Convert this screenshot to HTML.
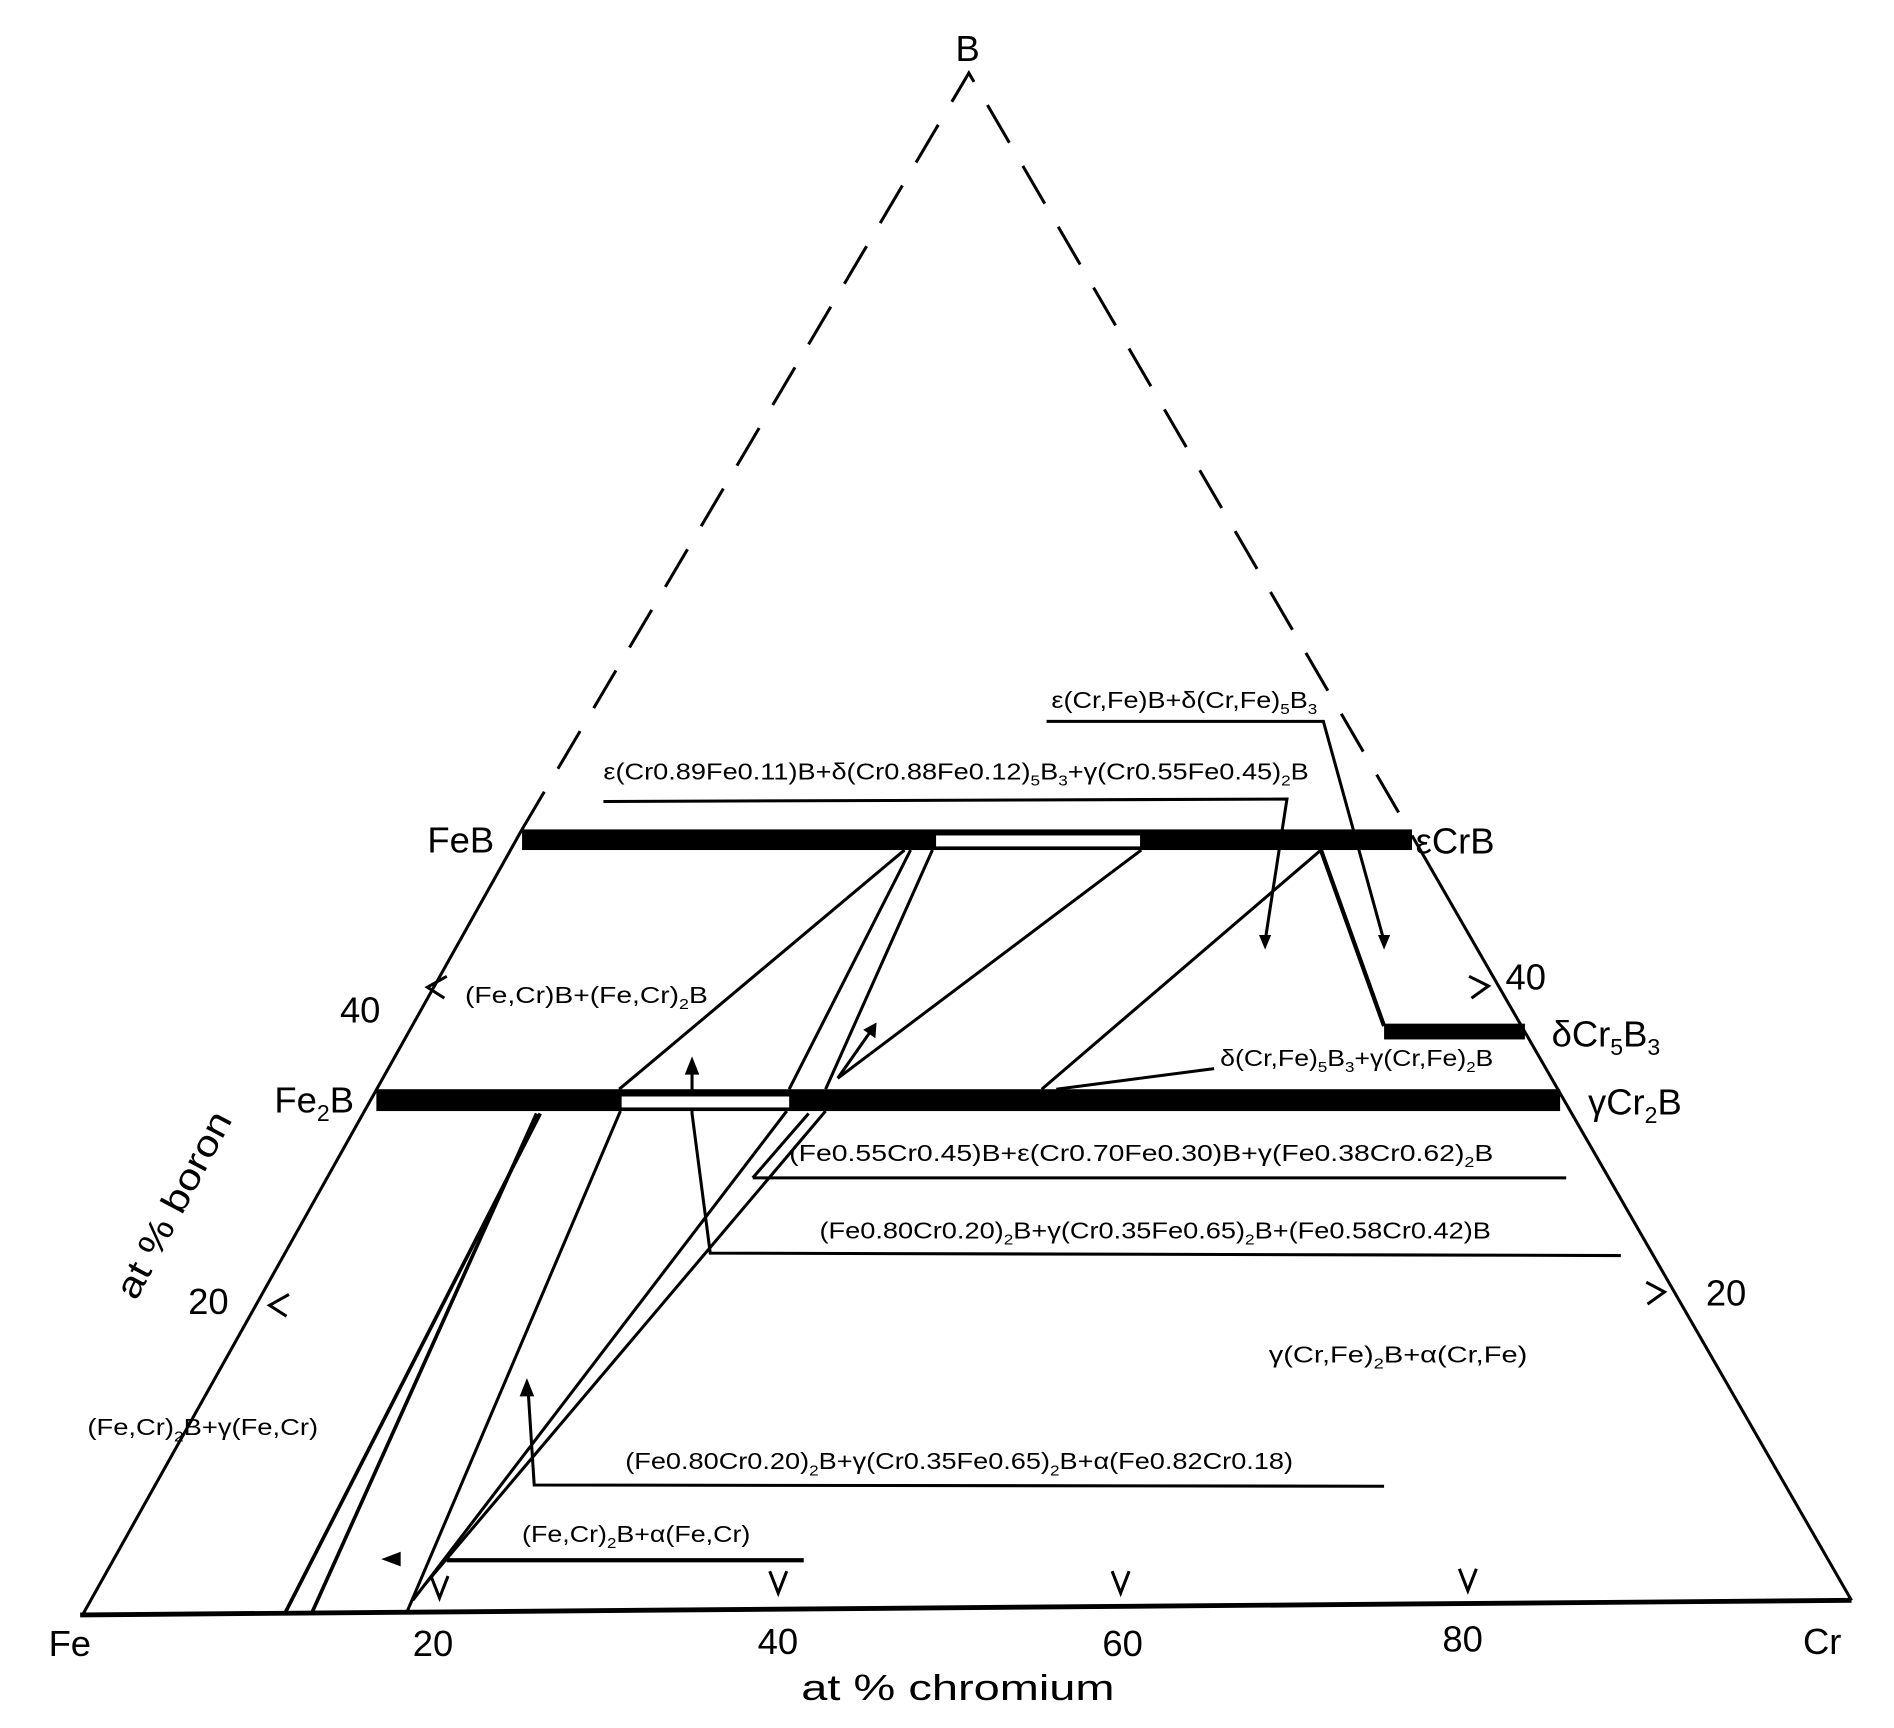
<!DOCTYPE html>
<html><head><meta charset="utf-8"><style>
html,body{margin:0;padding:0;background:#fff;}
svg{display:block;}
text{font-family:"Liberation Sans",sans-serif;fill:#000;}
.s{font-size:19px;}
.b{font-size:30px;}
</style></head><body>
<svg width="1894" height="1728" viewBox="0 0 1560 1423" xmlns="http://www.w3.org/2000/svg">
<g stroke="#000" fill="none" stroke-width="2.5">
<path d="M430 683 L798 60 L1163 688" stroke-dasharray="36 22"/>
<path d="M68 1330 L430 683"/>
<path d="M1525 1318 L1163 688"/>
<path d="M66 1330 L1525 1318" stroke-width="4"/>
<path d="M745 700 L510 897"/>
<path d="M511 915 L335 1328"/>
<path d="M750 700 L650 897"/>
<path d="M768 700 L680 897"/>
<path d="M648 915 L340 1318"/>
<path d="M680 915 L350 1305"/>
<path d="M940 700 L690 888"/>
<path d="M1088 700 L858 897"/>
<path d="M1088 700 L1140 845" stroke-width="3.5"/>
<path d="M445 917 L235 1328" stroke-width="3"/>
<path d="M442 917 L257 1328" stroke-width="3"/>
<path d="M862 594 L1090 594 L1140 775"/>
<path d="M497 660 L1060 658 L1042 775"/>
<path d="M1000 880 L870 897"/>
<path d="M620 970 L666 917"/>
<path d="M620 970 L1290 970"/>
<path d="M570 880 L570 917 L585 1032 L1335 1034"/>
<path d="M435 1145 L440 1223 L1140 1224"/>
<path d="M368 1285 L662 1285" stroke-width="3.5"/>
<path d="M690 888 L718 848"/>
<path d="M355 1298 L362 1316 L369 1298"/>
<path d="M634 1294 L641 1312 L648 1294"/>
<path d="M916 1294 L923 1312 L930 1294"/>
<path d="M1202 1292 L1209 1310 L1216 1292"/>
<path d="M368 804 L352 813 L366 822"/>
<path d="M238 1066 L222 1075 L236 1084"/>
<path d="M1210 804 L1226 812 L1212 822"/>
<path d="M1356 1056 L1371 1064 L1357 1074"/>
</g>
<g fill="#000">
<path d="M1140 782 L1135 770 L1145 770 Z"/>
<path d="M1042 782 L1037 770 L1047 770 Z"/>
<path d="M570 870 L564 885 L576 885 Z"/>
<path d="M434 1135 L428 1150 L440 1150 Z"/>
<path d="M722 842 L711 848 L721 855 Z"/>
<path d="M314 1284 L330 1278 L330 1290 Z"/>
<rect x="430" y="683" width="733" height="17"/>
<rect x="310" y="897" width="975" height="18"/>
<rect x="1140" y="843" width="116" height="13"/>
</g>
<g fill="#fff">
<rect x="771" y="688" width="168" height="9"/>
<rect x="512" y="903" width="138" height="9"/>
</g>
<text class="b" x="787" y="50">B</text>
<text class="b" x="352" y="702">FeB</text>
<text class="b" x="1166" y="703">εCrB</text>
<text class="b" x="226" y="916">Fe<tspan font-size="19" dy="7">2</tspan><tspan dy="-7">B</tspan></text>
<text class="b" x="1278" y="862">δCr<tspan font-size="19" dy="7">5</tspan><tspan dy="-7">B</tspan><tspan font-size="19" dy="7">3</tspan></text>
<text class="b" x="1308" y="918">γCr<tspan font-size="19" dy="7">2</tspan><tspan dy="-7">B</tspan></text>
<text class="b" x="280" y="842">40</text>
<text class="b" x="155" y="1082">20</text>
<text class="b" x="1240" y="815">40</text>
<text class="b" x="1405" y="1075">20</text>
<text class="b" x="40" y="1364">Fe</text>
<text class="b" x="340" y="1364">20</text>
<text class="b" x="624" y="1362">40</text>
<text class="b" x="908" y="1364">60</text>
<text class="b" x="1188" y="1360">80</text>
<text class="b" x="1485" y="1362">Cr</text>
<text class="b" x="660" y="1400" font-size="32" textLength="258" lengthAdjust="spacingAndGlyphs">at % chromium</text>
<text class="b" transform="translate(112,1072) rotate(-62)" font-size="32" textLength="170" lengthAdjust="spacingAndGlyphs">at % boron</text>
<text class="s" x="866" y="583" textLength="219" lengthAdjust="spacingAndGlyphs">ε(Cr,Fe)B+δ(Cr,Fe)<tspan font-size="12" dy="5">5</tspan><tspan dy="-5">B</tspan><tspan font-size="12" dy="5">3</tspan></text>
<text class="s" x="497" y="642" textLength="581" lengthAdjust="spacingAndGlyphs">ε(Cr0.89Fe0.11)B+δ(Cr0.88Fe0.12)<tspan font-size="12" dy="5">5</tspan><tspan dy="-5">B</tspan><tspan font-size="12" dy="5">3</tspan><tspan dy="-5">+γ(Cr0.55Fe0.45)</tspan><tspan font-size="12" dy="5">2</tspan><tspan dy="-5">B</tspan></text>
<text class="s" x="383" y="826" textLength="200" lengthAdjust="spacingAndGlyphs">(Fe,Cr)B+(Fe,Cr)<tspan font-size="12" dy="5">2</tspan><tspan dy="-5">B</tspan></text>
<text class="s" x="1005" y="878" textLength="225" lengthAdjust="spacingAndGlyphs">δ(Cr,Fe)<tspan font-size="12" dy="5">5</tspan><tspan dy="-5">B</tspan><tspan font-size="12" dy="5">3</tspan><tspan dy="-5">+γ(Cr,Fe)</tspan><tspan font-size="12" dy="5">2</tspan><tspan dy="-5">B</tspan></text>
<text class="s" x="650" y="956" textLength="580" lengthAdjust="spacingAndGlyphs">(Fe0.55Cr0.45)B+ε(Cr0.70Fe0.30)B+γ(Fe0.38Cr0.62)<tspan font-size="12" dy="5">2</tspan><tspan dy="-5">B</tspan></text>
<text class="s" x="675" y="1020" textLength="553" lengthAdjust="spacingAndGlyphs">(Fe0.80Cr0.20)<tspan font-size="12" dy="5">2</tspan><tspan dy="-5">B+γ(Cr0.35Fe0.65)</tspan><tspan font-size="12" dy="5">2</tspan><tspan dy="-5">B+(Fe0.58Cr0.42)B</tspan></text>
<text class="s" x="1045" y="1122" textLength="213" lengthAdjust="spacingAndGlyphs">γ(Cr,Fe)<tspan font-size="12" dy="5">2</tspan><tspan dy="-5">B+α(Cr,Fe)</tspan></text>
<text class="s" x="72" y="1182" textLength="190" lengthAdjust="spacingAndGlyphs">(Fe,Cr)<tspan font-size="12" dy="5">2</tspan><tspan dy="-5">B+γ(Fe,Cr)</tspan></text>
<text class="s" x="515" y="1210" textLength="550" lengthAdjust="spacingAndGlyphs">(Fe0.80Cr0.20)<tspan font-size="12" dy="5">2</tspan><tspan dy="-5">B+γ(Cr0.35Fe0.65)</tspan><tspan font-size="12" dy="5">2</tspan><tspan dy="-5">B+α(Fe0.82Cr0.18)</tspan></text>
<text class="s" x="430" y="1270" textLength="188" lengthAdjust="spacingAndGlyphs">(Fe,Cr)<tspan font-size="12" dy="5">2</tspan><tspan dy="-5">B+α(Fe,Cr)</tspan></text>
</svg>
</body></html>
